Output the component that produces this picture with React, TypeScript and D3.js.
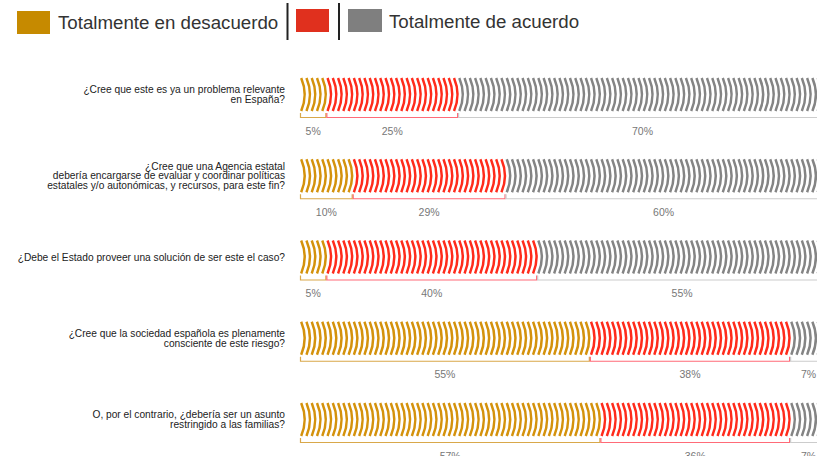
import React from "react";
import * as d3 from "d3";

const questions: string[][] = [
  ["¿Cree que este es ya un problema relevante", "en España?"],
  ["¿Cree que una Agencia estatal", "debería encargarse de evaluar y coordinar políticas", "estatales y/o autonómicas, y recursos, para este fin?"],
  ["¿Debe el Estado proveer una solución de ser este el caso?"],
  ["¿Cree que la sociedad española es plenamente", "consciente de este riesgo?"],
  ["O, por el contrario, ¿debería ser un asunto", "restringido a las familias?"],
];
const desacuerdo = [5, 10, 5, 55, 57];
const neutral = [25, 29, 40, 38, 36];
const acuerdo = [70, 60, 55, 7, 7];

const legendLabels = ["Totalmente en desacuerdo", "", "Totalmente de acuerdo"];
const legendColors = ["#C68A00", "#E0301E", "#7F7F7F"];
const arcColors = ["#D4920C", "#FF2B1B", "#848484"];
const bracketColors = ["#D9A84A", "#FF6B78", "#CCCCCC"];

const W = 817;
const H = 456;

export default function App() {
  const x = d3.scaleLinear().domain([0, 100]).range([300, 827]);
  const y = d3.scalePoint<number>().domain(d3.range(questions.length)).range([94.5, 419.5]);
  const barH = 33;

  const rows = questions.map((q, r) => {
    const vals = [desacuerdo[r], neutral[r], acuerdo[r]];
    const cy = y(r)!;
    const top = cy - barH / 2;
    const bot = cy + barH / 2;
    let cum = 0;
    const segs = vals.map((v, s) => {
      const start = cum;
      cum += v;
      const arcs = d3.range(v).map((i) => {
        const ax = x(start + i) + 1.2;
        const p = d3.path();
        p.moveTo(ax, top);
        p.quadraticCurveTo(ax + 7, cy, ax, bot);
        return <path key={i} d={p.toString()} fill="none" stroke={arcColors[s]} strokeWidth={2.5} />;
      });
      const x0 = x(start) + 0.5;
      const x1 = x(start + v) - 0.5;
      const by = bot + 6.5;
      return (
        <g key={s}>
          {arcs}
          <path d={`M${x0},${by - 4.5}V${by}H${x1}V${by - 4.5}`} fill="none" stroke={bracketColors[s]} strokeWidth={1.2} />
          <text x={(x(start) + x(start + v)) / 2} y={by + 17} textAnchor="middle" fontSize={10.5} fill="#777">{v}%</text>
        </g>
      );
    });
    const lh = 9.5;
    const n = q.length;
    return (
      <g key={r}>
        {segs}
        {q.map((line, li) => (
          <text key={li} x={285} y={cy + 3.5 + (li - (n - 1) / 2) * lh} textAnchor="end" fontSize={10.2} fill="#222">{line}</text>
        ))}
      </g>
    );
  });

  return (
    <div style={{ position: "absolute", left: 0, top: 0 }}>
      <svg width={W} height={H} style={{ display: "block", fontFamily: "'Liberation Sans', Arial, sans-serif" }}>
        <rect width={W} height={H} fill="#fff" />
        <g>
          <rect x={17} y={11} width={33} height={23} fill={legendColors[0]} />
          <text x={58} y={29} fontSize={18.7} fill="#333">{legendLabels[0]}</text>
          <line x1={287.5} x2={287.5} y1={3} y2={40} stroke="#222" strokeWidth={2} />
          <rect x={296} y={9} width={33} height={23} fill={legendColors[1]} />
          <line x1={339} x2={339} y1={3} y2={40} stroke="#222" strokeWidth={2} />
          <rect x={348} y={9} width={34} height={23} fill={legendColors[2]} />
          <text x={389} y={28} fontSize={18.7} fill="#333">{legendLabels[2]}</text>
        </g>
        {rows}
      </svg>
    </div>
  );
}
